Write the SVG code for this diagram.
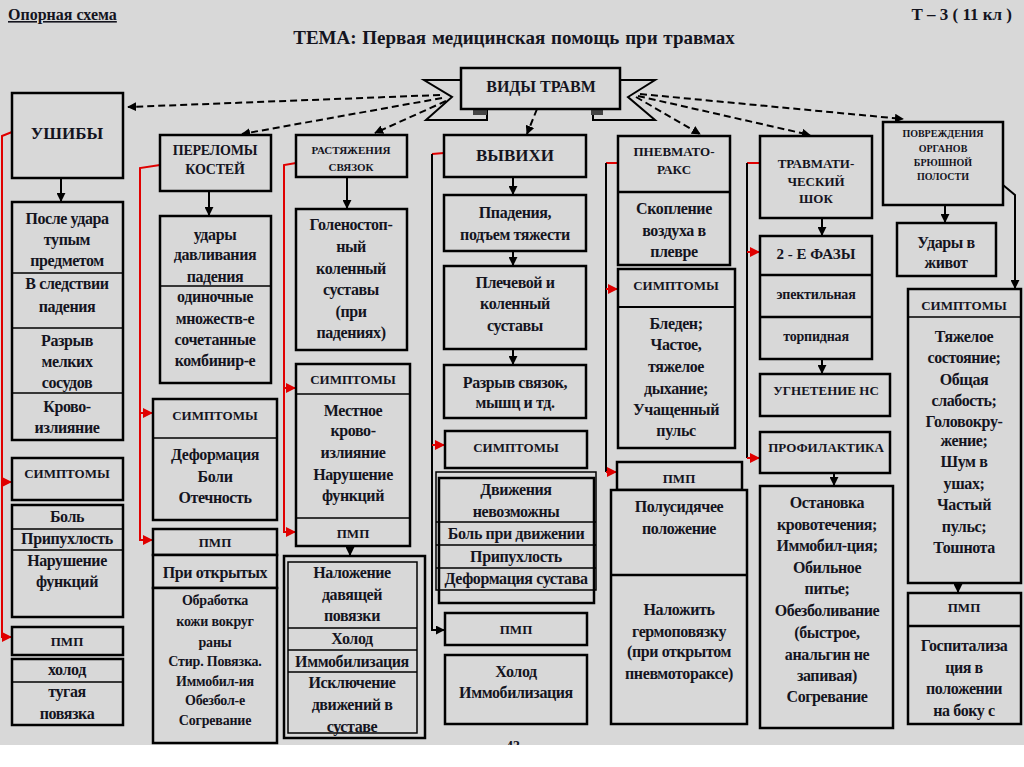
<svg xmlns="http://www.w3.org/2000/svg" width="1024" height="767" viewBox="0 0 1024 767">
<defs>
<style>
.b{fill:#d8d8d8;stroke:#000;stroke-width:2.5}
.bt{fill:none;stroke:#000;stroke-width:1.5}
.d{stroke:#000;stroke-width:1.5}
.t{font-family:"Liberation Serif",serif;font-weight:bold;font-size:16px;letter-spacing:-0.4px;text-anchor:middle;fill:#14141e}
.s{font-size:13px;letter-spacing:0}
.m{font-size:14px;letter-spacing:-0.2px}
.xs{font-size:11px;letter-spacing:0}
.xxs{font-size:10px;letter-spacing:0}
.r{stroke:#e00000;stroke-width:2;fill:none}
.k{stroke:#000;stroke-width:2;fill:none}
.dash{stroke:#000;stroke-width:2;fill:none;stroke-dasharray:7 4}
</style>
<marker id="ak" viewBox="0 0 10 10" refX="9" refY="5" markerWidth="9" markerHeight="9" markerUnits="userSpaceOnUse" orient="auto"><path d="M0,0 L10,5 L0,10 Z" fill="#000"/></marker>
<marker id="ar" viewBox="0 0 10 10" refX="9" refY="5" markerWidth="10" markerHeight="10" markerUnits="userSpaceOnUse" orient="auto"><path d="M0,0 L10,5 L0,10 Z" fill="#e00000"/></marker>
</defs>
<rect x="0" y="0" width="1024" height="767" fill="#d8d8d8"/>

<g id="title">
<text x="8" y="20" class="t" style="text-anchor:start;font-size:16px;letter-spacing:0;text-decoration:underline">Опорная схема</text>
<text x="1012" y="20" class="t" style="text-anchor:end;font-size:17px;letter-spacing:0">Т – 3 ( 11 кл )</text>
<text x="514" y="44" class="t" style="font-size:19px;letter-spacing:0;word-spacing:1px">ТЕМА:   Первая медицинская помощь при травмах</text>
</g>

<g id="banner">
<path d="M470,80 L424,80 L452,97 L426,120 L487,120 L487,108 Z" fill="#d8d8d8" stroke="#000" stroke-width="2"/>
<path d="M610,80 L655,80 L628,97 L655,120 L593,120 L593,108 Z" fill="#d8d8d8" stroke="#000" stroke-width="2"/>
<rect x="473" y="108" width="14" height="7" fill="#444"/>
<rect x="591" y="108" width="12" height="7" fill="#444"/>
<rect x="461" y="68" width="159" height="41" class="b"/>
<text x="541" y="92" class="t" style="font-size:16px;letter-spacing:0">ВИДЫ ТРАВМ</text>
</g>

<g id="connectors">
<path class="dash" d="M440,95 L128,107" marker-end="url(#ak)"/>
<path class="dash" d="M442,98 L242,134" marker-end="url(#ak)"/>
<path class="dash" d="M446,101 L375,133" marker-end="url(#ak)"/>
<path class="dash" d="M537,109 L527,134" marker-end="url(#ak)"/>
<path class="dash" d="M636,97 L700,134" marker-end="url(#ak)"/>
<path class="dash" d="M638,96 L810,135" marker-end="url(#ak)"/>
<path class="dash" d="M640,94 L903,119" marker-end="url(#ak)"/>

<path class="k" d="M61,178 L61,201" marker-end="url(#ak)"/>
<path class="k" d="M209,191 L209,215" marker-end="url(#ak)"/>
<path class="k" d="M347,177 L347,208" marker-end="url(#ak)"/>
<path class="k" d="M513,177 L513,194" marker-end="url(#ak)"/>
<path class="k" d="M513,251 L513,265" marker-end="url(#ak)"/>
<path class="k" d="M513,349 L513,364" marker-end="url(#ak)"/>
<path class="k" d="M350,546 L350,555" marker-end="url(#ak)"/>
<path class="k" d="M822,218 L822,235" marker-end="url(#ak)"/>
<path class="k" d="M822,359 L822,373" marker-end="url(#ak)"/>
<path class="k" d="M834,473 L834,485" marker-end="url(#ak)"/>
<path class="k" d="M945,205 L945,222" marker-end="url(#ak)"/>
<path class="k" d="M958,583 L958,592" marker-end="url(#ak)"/>

<path class="r" d="M12,132 L2,136 L2,637 L11,637" marker-end="url(#ar)"/>
<path class="r" d="M2,482 L11,482" marker-end="url(#ar)"/>
<path class="r" d="M160,165 L140,168 L140,540 L152,540" marker-end="url(#ar)"/>
<path class="r" d="M140,413 L152,413" marker-end="url(#ar)"/>
<path class="r" d="M296,163 L284,165 L284,532 L295,532" marker-end="url(#ar)"/>
<path class="r" d="M284,388 L295,388" marker-end="url(#ar)"/>

<path class="r" d="M444,153 L432,154"/>
<path class="k" d="M432,154 L432,630 L444,630" marker-end="url(#ak)"/>
<path class="r" d="M432,445 L444,445" marker-end="url(#ar)"/>

<path class="r" d="M618,163 L606,163"/>
<path class="k" d="M606,163 L606,472"/>
<path class="r" d="M606,472 L616,472" marker-end="url(#ar)"/>
<path class="r" d="M606,289 L617,289" marker-end="url(#ar)"/>

<path class="r" d="M760,163 L747,163"/>
<path class="k" d="M747,163 L747,458"/>
<path class="r" d="M747,458 L759,458" marker-end="url(#ar)"/>
<path class="r" d="M747,252 L759,252" marker-end="url(#ar)"/>

<path class="k" d="M1003,185 L1015,195 L1015,288" marker-end="url(#ak)"/>
</g>

<g id="n-ushiby">
<rect x="12" y="93" width="111" height="85" class="b"/>
<text x="67" y="139" class="t" style="font-size:17px;letter-spacing:0">УШИБЫ</text>
</g>
<g id="n-ushiby-causes">
<rect x="12" y="202" width="111" height="238" class="b"/>
<line x1="12" y1="273" x2="123" y2="273" class="d"/>
<line x1="12" y1="328" x2="123" y2="328" class="d"/>
<line x1="12" y1="393" x2="123" y2="393" class="d"/>
<text x="67" y="224" class="t">После удара</text>
<text x="67" y="245" class="t">тупым</text>
<text x="67" y="266" class="t">предметом</text>
<text x="67" y="289" class="t">В следствии</text>
<text x="67" y="312" class="t">падения</text>
<text x="67" y="346" class="t">Разрыв</text>
<text x="67" y="367" class="t">мелких</text>
<text x="67" y="388" class="t">сосудов</text>
<text x="67" y="412" class="t">Крово-</text>
<text x="67" y="433" class="t">излияние</text>
</g>
<g id="n-ushiby-sympt">
<rect x="12" y="458" width="111" height="42" class="b"/>
<text x="67" y="478" class="t s">СИМПТОМЫ</text>
</g>
<g id="n-ushiby-sympt-list">
<rect x="12" y="505" width="111" height="112" class="b"/>
<line x1="12" y1="529" x2="123" y2="529" class="d"/>
<line x1="12" y1="550" x2="123" y2="550" class="d"/>
<text x="67" y="522" class="t">Боль</text>
<text x="67" y="544" class="t">Припухлость</text>
<text x="67" y="566" class="t">Нарушение</text>
<text x="67" y="587" class="t">функций</text>
</g>
<g id="n-ushiby-pmp">
<rect x="12" y="627" width="111" height="28" class="b"/>
<text x="67" y="646" class="t s">ПМП</text>
</g>
<g id="n-ushiby-pmp-list">
<rect x="12" y="659" width="111" height="66" class="b"/>
<line x1="12" y1="682" x2="123" y2="682" class="d"/>
<text x="67" y="675" class="t">холод</text>
<text x="67" y="697" class="t">тугая</text>
<text x="67" y="719" class="t">повязка</text>
</g>

<g id="n-perelomy">
<rect x="160" y="135" width="111" height="56" class="b"/>
<text x="215" y="155" class="t m">ПЕРЕЛОМЫ</text>
<text x="215" y="174" class="t m">КОСТЕЙ</text>
</g>
<g id="n-perelomy-causes">
<rect x="160" y="216" width="111" height="167" class="b"/>
<line x1="160" y1="286" x2="271" y2="286" class="d"/>
<text x="215" y="240" class="t">удары</text>
<text x="215" y="260" class="t">давливания</text>
<text x="215" y="282" class="t">падения</text>
<text x="215" y="302" class="t">одиночные</text>
<text x="215" y="324" class="t">множеств-е</text>
<text x="215" y="345" class="t">сочетанные</text>
<text x="215" y="366" class="t">комбинир-е</text>
</g>
<g id="n-perelomy-sympt">
<rect x="153" y="399" width="124" height="121" class="b"/>
<line x1="153" y1="438" x2="277" y2="438" class="d"/>
<text x="215" y="420" class="t s">СИМПТОМЫ</text>
<text x="215" y="460" class="t">Деформация</text>
<text x="215" y="482" class="t">Боли</text>
<text x="215" y="503" class="t">Отечность</text>
</g>
<g id="n-perelomy-pmp">
<rect x="153" y="529" width="124" height="26" class="b"/>
<text x="215" y="547" class="t s">ПМП</text>
<rect x="153" y="555" width="124" height="33" class="b"/>
<text x="215" y="578" class="t">При открытых</text>
<rect x="153" y="588" width="124" height="155" class="b"/>
<text x="215" y="605" class="t m">Обработка</text>
<text x="215" y="626" class="t m">кожи вокруг</text>
<text x="215" y="647" class="t m">раны</text>
<text x="215" y="666" class="t m">Стир. Повязка.</text>
<text x="215" y="686" class="t m">Иммобил-ия</text>
<text x="215" y="705" class="t m">Обезбол-е</text>
<text x="215" y="725" class="t m">Согревание</text>
</g>

<g id="n-rastyazh">
<rect x="296" y="135" width="111" height="42" class="b"/>
<text x="351" y="154" class="t xs">РАСТЯЖЕНИЯ</text>
<text x="351" y="171" class="t xs">СВЯЗОК</text>
</g>
<g id="n-rastyazh-where">
<rect x="296" y="209" width="111" height="141" class="b"/>
<text x="351" y="230" class="t">Голеностоп-</text>
<text x="351" y="252" class="t">ный</text>
<text x="351" y="274" class="t">коленный</text>
<text x="351" y="295" class="t">суставы</text>
<text x="351" y="317" class="t">(при</text>
<text x="351" y="338" class="t">падениях)</text>
</g>
<g id="n-rastyazh-sympt">
<rect x="296" y="364" width="114" height="182" class="b"/>
<line x1="296" y1="394" x2="410" y2="394" class="d"/>
<line x1="296" y1="518" x2="410" y2="518" class="d"/>
<text x="353" y="384" class="t s">СИМПТОМЫ</text>
<text x="353" y="416" class="t">Местное</text>
<text x="353" y="436" class="t">крово-</text>
<text x="353" y="458" class="t">излияние</text>
<text x="353" y="480" class="t">Нарушение</text>
<text x="353" y="501" class="t">функций</text>
<text x="353" y="538" class="t s">ПМП</text>
</g>
<g id="n-rastyazh-pmp">
<rect x="284" y="556" width="141" height="182" class="b"/>
<rect x="288" y="562" width="129" height="171" class="bt"/>
<line x1="288" y1="628" x2="417" y2="628" class="d"/>
<line x1="288" y1="650" x2="417" y2="650" class="d"/>
<line x1="288" y1="672" x2="417" y2="672" class="d"/>
<text x="352" y="578" class="t">Наложение</text>
<text x="352" y="600" class="t">давящей</text>
<text x="352" y="621" class="t">повязки</text>
<text x="352" y="644" class="t">Холод</text>
<text x="352" y="667" class="t">Иммобилизация</text>
<text x="352" y="688" class="t">Исключение</text>
<text x="352" y="710" class="t">движений в</text>
<text x="352" y="732" class="t">суставе</text>
</g>

<g id="n-vyvihi">
<rect x="444" y="135" width="142" height="42" class="b"/>
<text x="515" y="161" class="t" style="font-size:17px;letter-spacing:0">ВЫВИХИ</text>
</g>
<g id="n-vyvihi-cause">
<rect x="444" y="195" width="142" height="56" class="b"/>
<text x="515" y="218" class="t">Ппадения,</text>
<text x="515" y="240" class="t">подъем тяжести</text>
</g>
<g id="n-vyvihi-where">
<rect x="444" y="266" width="142" height="83" class="b"/>
<text x="515" y="288" class="t">Плечевой и</text>
<text x="515" y="309" class="t">коленный</text>
<text x="515" y="331" class="t">суставы</text>
</g>
<g id="n-vyvihi-what">
<rect x="444" y="365" width="142" height="53" class="b"/>
<text x="515" y="388" class="t">Разрыв связок,</text>
<text x="515" y="408" class="t">мышц и тд.</text>
</g>
<g id="n-vyvihi-sympt">
<rect x="445" y="431" width="142" height="37" class="b"/>
<text x="516" y="452" class="t s">СИМПТОМЫ</text>
</g>
<g id="n-vyvihi-sympt-list">
<rect x="439" y="478" width="155" height="125" class="b"/>
<rect x="436" y="472" width="160" height="118" class="bt"/>
<line x1="436" y1="522" x2="596" y2="522" class="d"/>
<line x1="436" y1="545" x2="596" y2="545" class="d"/>
<line x1="436" y1="568" x2="596" y2="568" class="d"/>
<text x="516" y="495" class="t">Движения</text>
<text x="516" y="517" class="t">невозможны</text>
<text x="516" y="539" class="t">Боль при движении</text>
<text x="516" y="562" class="t">Припухлость</text>
<text x="516" y="584" class="t">Деформация сустава</text>
</g>
<g id="n-vyvihi-pmp">
<rect x="445" y="613" width="142" height="32" class="b"/>
<text x="516" y="634" class="t s">ПМП</text>
</g>
<g id="n-vyvihi-pmp-list">
<rect x="445" y="655" width="142" height="69" class="b"/>
<text x="516" y="677" class="t">Холод</text>
<text x="516" y="698" class="t">Иммобилизация</text>
</g>

<g id="n-pnevmo">
<rect x="618" y="136" width="112" height="129" class="b"/>
<line x1="618" y1="192" x2="730" y2="192" class="d" style="stroke-width:2.5"/>
<text x="674" y="156" class="t s">ПНЕВМАТО-</text>
<text x="674" y="174" class="t s">РАКС</text>
<text x="674" y="214" class="t">Скопление</text>
<text x="674" y="236" class="t">воздуха в</text>
<text x="674" y="257" class="t">плевре</text>
</g>
<g id="n-pnevmo-sympt">
<rect x="618" y="269" width="117" height="179" class="b"/>
<line x1="618" y1="307" x2="735" y2="307" class="d" style="stroke-width:2"/>
<text x="676" y="290" class="t s">СИМПТОМЫ</text>
<text x="676" y="329" class="t">Бледен;</text>
<text x="676" y="350" class="t">Частое,</text>
<text x="676" y="372" class="t">тяжелое</text>
<text x="676" y="394" class="t">дыхание;</text>
<text x="676" y="415" class="t">Учащенный</text>
<text x="676" y="436" class="t">пульс</text>
</g>
<g id="n-pnevmo-pmp">
<rect x="617" y="462" width="125" height="28" class="b"/>
<text x="679" y="483" class="t s">ПМП</text>
<rect x="611" y="490" width="136" height="234" class="b"/>
<line x1="611" y1="575" x2="747" y2="575" class="d" style="stroke-width:2.5"/>
<text x="679" y="512" class="t">Полусидячее</text>
<text x="679" y="534" class="t">положение</text>
<text x="679" y="615" class="t">Наложить</text>
<text x="679" y="637" class="t">гермоповязку</text>
<text x="679" y="657" class="t">(при открытом</text>
<text x="679" y="679" class="t">пневмотораксе)</text>
</g>

<g id="n-shok">
<rect x="760" y="136" width="112" height="82" class="b"/>
<text x="816" y="168" class="t s">ТРАВМАТИ-</text>
<text x="816" y="186" class="t s">ЧЕСКИЙ</text>
<text x="816" y="203" class="t s">ШОК</text>
</g>
<g id="n-shok-phases">
<rect x="760" y="236" width="112" height="123" class="b"/>
<line x1="760" y1="275" x2="872" y2="275" class="d" style="stroke-width:2.5"/>
<line x1="760" y1="317" x2="872" y2="317" class="d" style="stroke-width:2.5"/>
<text x="816" y="259" class="t" style="font-size:15px;letter-spacing:0">2 - Е  ФАЗЫ</text>
<text x="816" y="299" class="t m">эпектильная</text>
<text x="816" y="341" class="t m">торпидная</text>
</g>
<g id="n-shok-ns">
<rect x="760" y="374" width="130" height="42" class="b"/>
<text x="826" y="395" class="t s">УГНЕТЕНИЕ  НС</text>
</g>
<g id="n-shok-prof">
<rect x="760" y="432" width="130" height="41" class="b"/>
<text x="826" y="452" class="t s">ПРОФИЛАКТИКА</text>
</g>
<g id="n-shok-prof-list">
<rect x="760" y="486" width="133" height="242" class="b"/>
<text x="827" y="508" class="t">Остановка</text>
<text x="827" y="530" class="t">кровотечения;</text>
<text x="827" y="551" class="t">Иммобил-ция;</text>
<text x="827" y="573" class="t">Обильное</text>
<text x="827" y="594" class="t">питье;</text>
<text x="827" y="616" class="t">Обезболивание</text>
<text x="827" y="638" class="t">(быстрое,</text>
<text x="827" y="660" class="t">анальгин не</text>
<text x="827" y="681" class="t">запивая)</text>
<text x="827" y="702" class="t">Согревание</text>
</g>

<g id="n-bryush">
<rect x="883" y="122" width="120" height="83" class="b"/>
<text x="943" y="137" class="t xxs">ПОВРЕЖДЕНИЯ</text>
<text x="943" y="152" class="t xxs">ОРГАНОВ</text>
<text x="943" y="166" class="t xxs">БРЮШНОЙ</text>
<text x="943" y="180" class="t xxs">ПОЛОСТИ</text>
</g>
<g id="n-bryush-cause">
<rect x="897" y="223" width="99" height="53" class="b"/>
<text x="946" y="248" class="t">Удары в</text>
<text x="946" y="268" class="t">живот</text>
</g>
<g id="n-bryush-sympt">
<rect x="908" y="289" width="113" height="294" class="b"/>
<line x1="908" y1="317" x2="1021" y2="317" class="d"/>
<text x="964" y="310" class="t s">СИМПТОМЫ</text>
<text x="964" y="342" class="t">Тяжелое</text>
<text x="964" y="363" class="t">состояние;</text>
<text x="964" y="385" class="t">Общая</text>
<text x="964" y="406" class="t">слабость;</text>
<text x="964" y="427" class="t">Головокру-</text>
<text x="964" y="446" class="t">жение;</text>
<text x="964" y="467" class="t">Шум в</text>
<text x="964" y="489" class="t">ушах;</text>
<text x="964" y="510" class="t">Частый</text>
<text x="964" y="532" class="t">пульс;</text>
<text x="964" y="553" class="t">Тошнота</text>
</g>
<g id="n-bryush-pmp">
<rect x="908" y="593" width="113" height="131" class="b"/>
<line x1="908" y1="626" x2="1021" y2="626" class="d" style="stroke-width:2.5"/>
<text x="964" y="612" class="t s">ПМП</text>
<text x="964" y="651" class="t">Госпитализа</text>
<text x="964" y="673" class="t">ция в</text>
<text x="964" y="694" class="t">положении</text>
<text x="964" y="716" class="t">на боку с</text>
</g>

<text x="513" y="751" class="t" style="font-size:14px;letter-spacing:0">43</text>
<rect x="0" y="745" width="1024" height="22" fill="#ffffff"/>
</svg>
